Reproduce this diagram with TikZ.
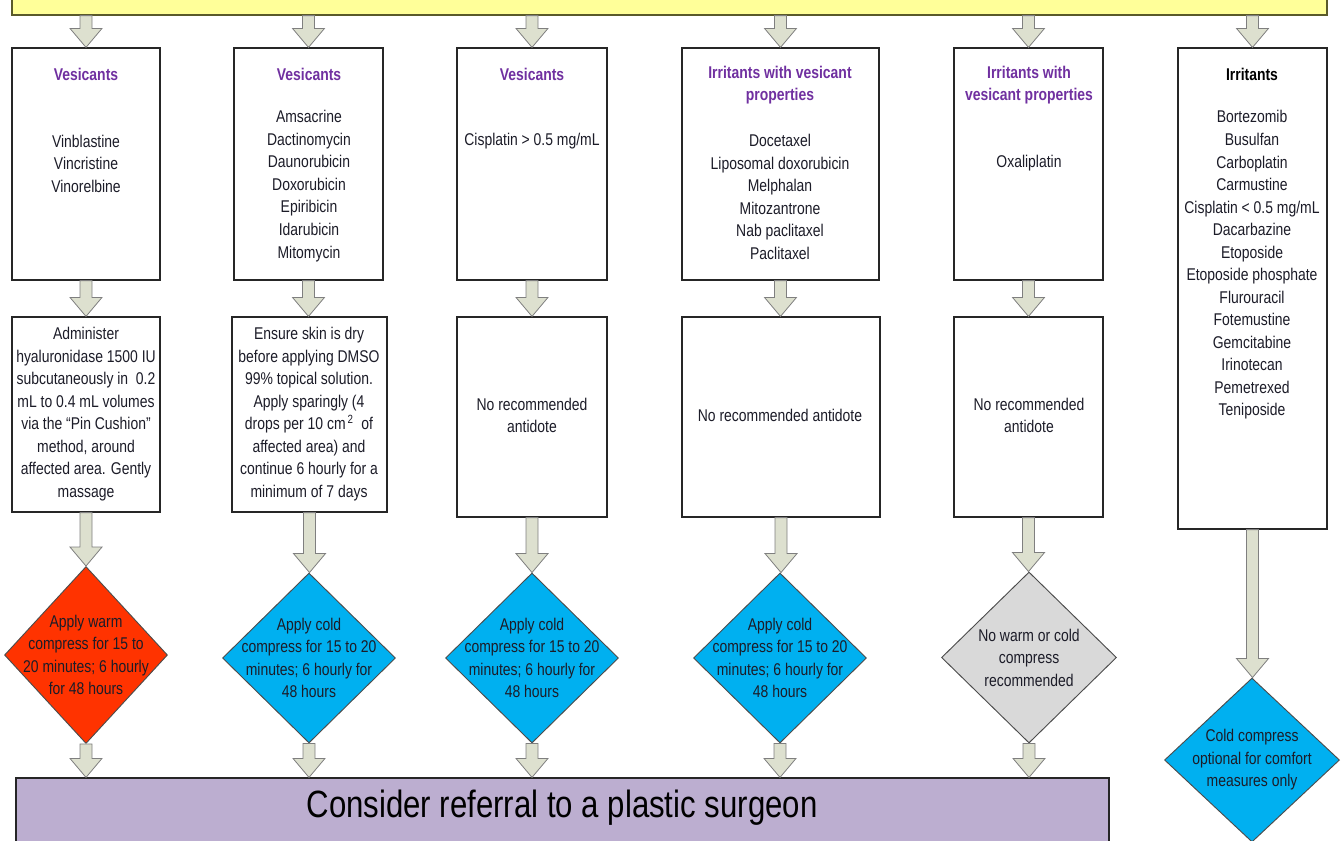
\documentclass[tikz,border=0pt]{standalone}
\usepackage{fontspec}
\setmainfont{Liberation Sans}[FakeStretch=0.82]
\usetikzlibrary{shapes.geometric,fit,calc}
\definecolor{yel}{HTML}{FFFF99}
\definecolor{yelborder}{HTML}{5A5A2A}
\definecolor{arrfill}{HTML}{DDE0CF}
\definecolor{arrline}{HTML}{7F7F7F}
\definecolor{redd}{HTML}{FF3300}
\definecolor{bluee}{HTML}{00B0F0}
\definecolor{grayd}{HTML}{D9D9D9}
\definecolor{purp}{HTML}{BCAED0}
\definecolor{ttl}{HTML}{7030A0}
\definecolor{txt}{HTML}{1C1C28}
\tikzset{
  box/.style={draw=black!85, line width=0.9pt, fill=white, inner sep=0pt},
  dia/.style={shape=diamond, draw=black!70, line width=0.7pt, inner sep=0pt},
  body/.style={text=txt, font=\fontsize{12.75pt}{16.9pt}\selectfont, align=center, inner sep=0pt},
  title/.style={text=ttl, font=\fontsize{12.75pt}{16.9pt}\selectfont\bfseries, align=center, inner sep=0pt},
  arr/.style={fill=arrfill, draw=arrline, line width=0.6pt, line join=miter}
}
\newcommand\blockarr[2]{%
  \path[arr] let \p1=(#1), \p2=(#2) in
    (\x1-4.5pt,\y1) -- (\x1-4.5pt,\y2+14.25pt) -- (\x1-12pt,\y2+14.25pt) -- (\x1,\y2)
    -- (\x1+12pt,\y2+14.25pt) -- (\x1+4.5pt,\y2+14.25pt) -- (\x1+4.5pt,\y1) -- cycle;}
\begin{document}
\begin{tikzpicture}[x=0.75pt,y=-0.75pt]
\useasboundingbox (0,0) rectangle (1341,840);
% top bar
\node[draw=yelborder, line width=0.9pt, fill=yel, inner sep=0pt, fit={(12,-20) (1327,15)}] (top) {};
% first row boxes
\node[box, fit={(12,48) (160,280)}] (b1) {};
\node[box, fit={(234,48) (383,280)}] (b2) {};
\node[box, fit={(457,48) (607,280)}] (b3) {};
\node[box, fit={(682,48) (879,280)}] (b4) {};
\node[box, fit={(954,48) (1103,280)}] (b5) {};
\node[box, fit={(1178,48) (1327,529)}] (b6) {};
% second row boxes
\node[box, fit={(12,317) (160,512)}] (c1) {};
\node[box, fit={(232,317) (387,512)}] (c2) {};
\node[box, fit={(457,317) (607,517)}] (c3) {};
\node[box, fit={(682,317) (880,517)}] (c4) {};
\node[box, fit={(954,317) (1103,517)}] (c5) {};
% diamonds
\node[dia, fill=redd, minimum width=122.25pt, minimum height=132.75pt] (d1) at (86,655) {};
\node[dia, fill=bluee, minimum width=129.75pt, minimum height=127.5pt] (d2) at (309,658) {};
\node[dia, fill=bluee, minimum width=129.75pt, minimum height=127.5pt] (d3) at (532,658) {};
\node[dia, fill=bluee, minimum width=129.75pt, minimum height=127.5pt] (d4) at (780,658) {};
\node[dia, fill=grayd, minimum width=131.25pt, minimum height=128.25pt] (d5) at (1029,657.5) {};
\node[dia, fill=bluee, minimum width=131.25pt, minimum height=123pt] (d6) at (1252,760) {};
% bottom box
\node[draw=black!85, line width=0.9pt, fill=purp, inner sep=0pt, fit={(16,778) (1109,860)}] (pur) {};
% arrows
\foreach \b in {b1,b2,b3,b4,b5,b6} { \blockarr{top.south -| \b.north}{\b.north} }
\blockarr{b1.south}{c1.north}
\blockarr{b2.south}{c2.north}
\blockarr{b3.south}{c3.north}
\blockarr{b4.south}{c4.north}
\blockarr{b5.south}{c5.north}
\blockarr{c1.south}{d1.north}
\blockarr{c2.south}{d2.north}
\blockarr{c3.south}{d3.north}
\blockarr{c4.south}{d4.north}
\blockarr{c5.south}{d5.north}
\blockarr{b6.south}{d6.north}
\blockarr{d1.south}{pur.north -| d1.south}
\blockarr{d2.south}{pur.north -| d2.south}
\blockarr{d3.south}{pur.north -| d3.south}
\blockarr{d4.south}{pur.north -| d4.south}
\blockarr{d5.south}{pur.north -| d5.south}
% titles
\node[title] (t1) at (86,74) {Vesicants};
\node[title] (t2) at (309,74) {Vesicants};
\node[title] (t3) at (532,74) {Vesicants};
\node[title] (t4) at (780,85) {Irritants with vesicant\\properties};
\node[title] (t5) at (1029,85) {Irritants with\\vesicant properties};
\node[title, text=black] (t6) at (1252,74) {Irritants};
% drug lists
\node[body] (l1) at (86,163.5) {Vinblastine\\Vincristine\\Vinorelbine};
\node[body] (l2) at (309,186) {Amsacrine\\Dactinomycin\\Daunorubicin\\Doxorubicin\\Epiribicin\\Idarubicin\\Mitomycin};
\node[body] (l3) at (532,141) {Cisplatin > 0.5 mg/mL};
\node[body] (l4) at (780,197) {Docetaxel\\Liposomal doxorubicin\\Melphalan\\Mitozantrone\\Nab paclitaxel\\Paclitaxel};
\node[body] (l5) at (1029,163) {Oxaliplatin};
\node[body] (l6) at (1252,265) {Bortezomib\\Busulfan\\Carboplatin\\Carmustine\\Cisplatin < 0.5 mg/mL\\Dacarbazine\\Etoposide\\Etoposide phosphate\\Flurouracil\\Fotemustine\\Gemcitabine\\Irinotecan\\Pemetrexed\\Teniposide};
% antidotes
\node[body] (m1) at (86,414) {Administer\\hyaluronidase 1500 IU\\subcutaneously in\ \ 0.2\\mL to 0.4 mL volumes\\via the “Pin Cushion”\\method, around\\affected area. Gently\\massage};
\node[body] (m2) at (309,414) {Ensure skin is dry\\before applying DMSO\\99\% topical solution.\\Apply sparingly (4\\drops per 10 cm\textsuperscript{\,2}\ \ of\\affected area) and\\continue 6 hourly for a\\minimum of 7 days};
\node[body] (m3) at (532,415.5) {No recommended\\antidote};
\node[body] (m4) at (780,415) {No recommended antidote};
\node[body] (m5) at (1029,415.5) {No recommended\\antidote};
% compress texts
\node[body] (k1) at (86,655) {Apply warm\\compress for 15 to\\20 minutes; 6 hourly\\for 48 hours};
\node[body] (k2) at (309,658) {Apply cold\\compress for 15 to 20\\minutes; 6 hourly for\\48 hours};
\node[body] (k3) at (532,658) {Apply cold\\compress for 15 to 20\\minutes; 6 hourly for\\48 hours};
\node[body] (k4) at (780,658) {Apply cold\\compress for 15 to 20\\minutes; 6 hourly for\\48 hours};
\node[body] (k5) at (1029,657.5) {No warm or cold\\compress\\recommended};
\node[body] (k6) at (1252,760) {Cold compress\\optional for comfort\\measures only};
% bottom text
\node[text=black, font=\fontsize{28.5pt}{34pt}\selectfont, inner sep=0pt] (ref) at (562,808) {Consider referral to a plastic surgeon};
\end{tikzpicture}
\end{document}
